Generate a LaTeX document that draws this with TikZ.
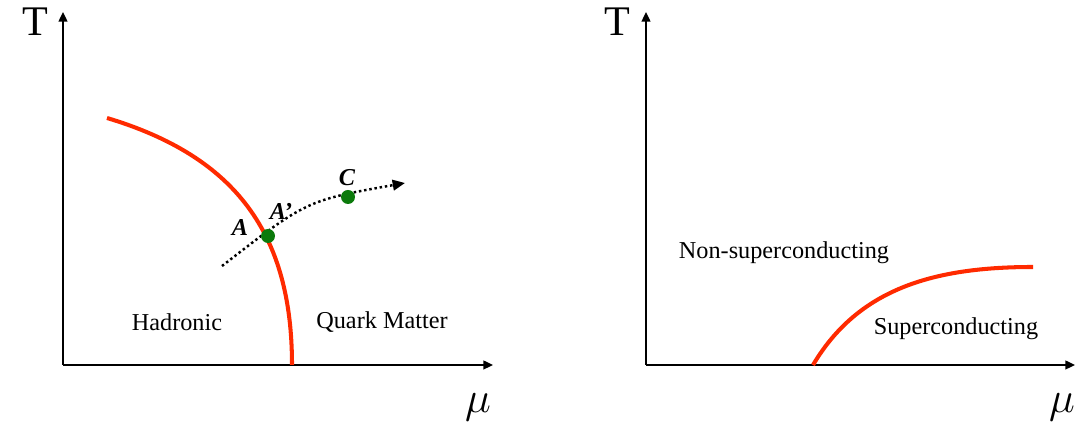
\documentclass[tikz,border=0pt]{standalone}
\usepackage{fontspec}
\setmainfont{Liberation Serif}
\usepackage{tikz}
\usetikzlibrary{arrows.meta,positioning,calc}
\definecolor{linered}{HTML}{FF2A00}
\definecolor{dotgreen}{HTML}{0B7A0B}

\begin{document}
\begin{tikzpicture}[x=0.02cm,y=0.02cm,font=\fontsize{13.8}{16}\selectfont,
  axis/.style={line width=1.1pt,-{Triangle[length=5.5pt,width=5pt]}},
  phaseline/.style={linered,line width=2.3pt},
  path/.style={line width=1.4pt,dash pattern=on 1.4pt off 1.6pt,-{Triangle[length=7pt,width=6pt]}},
  dot/.style={circle,fill=dotgreen,inner sep=0pt,minimum size=0.28cm},
  axlabel/.style={font=\fontsize{24}{28}\selectfont}]
\useasboundingbox (0,0) rectangle (1076,425);
% left: QCD
\coordinate (o1) at (63,60);
\coordinate (t1) at (63,413);
\coordinate (m1) at (493,60);
\draw[axis] (o1) -- (t1);
\draw[axis] (o1) -- (m1);
\node[axlabel] (T1) at (35,403) {T};
\node[axlabel,font=\fontsize{26}{30}\selectfont] (mu1) at (478,18) {$\mu$};
\coordinate (cs) at (222,159);
\coordinate (ce) at (405,242);
\draw[path] (cs) .. controls (306.5,224.5) .. (ce);
\draw[phaseline] (107,307) .. controls (237,268) and (292,190) .. (292,60);
\node[dot] (ptA) at (268,189) {};
\node[dot] (ptC) at (348,228) {};
\node[font=\fontsize{13.8}{16}\selectfont\bfseries\itshape] (lA) at (240,197) {A};
\node[font=\fontsize{13.8}{16}\selectfont\bfseries\itshape] (lA2) at (281,214) {A’};
\node[font=\fontsize{13.8}{16}\selectfont\bfseries\itshape] (lC) at (347,247) {C};
\node (had) at (177,103) {Hadronic};
\node (qm) at (382,103) {Quark Matter};
% right: superconductor
\coordinate (o2) at (646,60);
\coordinate (t2) at (646,413);
\coordinate (m2) at (1075,60);
\draw[axis] (o2) -- (t2);
\draw[axis] (o2) -- (m2);
\node[axlabel] (T2) at (617,403) {T};
\node[axlabel,font=\fontsize{26}{30}\selectfont] (mu2) at (1062,18) {$\mu$};
\draw[phaseline] (813,60) .. controls (858,136) and (933,158) .. (1033,158);
\node (nsc) at (784,172) {Non-superconducting};
\node (sc) at (956,96) {Superconducting};
\end{tikzpicture}
\end{document}
